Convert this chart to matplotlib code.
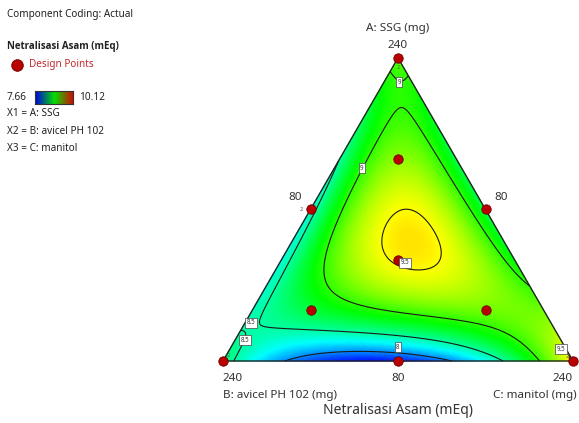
import numpy as np
import matplotlib
matplotlib.use("Agg")
import matplotlib.pyplot as plt
import matplotlib.tri as mtri
from matplotlib.colors import LinearSegmentedColormap, Normalize

plt.rcParams['font.family'] = ['Noto Sans', 'DejaVu Sans']

# Mixture design (actual mg, total 400, each component 80..240)
ssg     = [240, 80, 80, 160, 160, 80, 133.33, 186.67, 106.67, 106.67]
avicel  = [80, 240, 80, 160, 80, 160, 133.33, 106.67, 186.67, 106.67]
manitol = [80, 80, 240, 80, 160, 160, 133.33, 106.67, 106.67, 186.67]
netralisasi = [9.12, 8.60, 9.57, 8.35, 8.75, 7.70, 9.48, 9.20, 8.85, 9.15]
replicates = [2, 2, 2, 2, 1, 1, 1, 1, 1, 1]

low, high = 80.0, 240.0
resp_min, resp_max = 7.66, 10.12
levels = [8.0, 8.5, 9.0, 9.5]

# pseudo components
def pseudo(v):
    return (np.asarray(v, float) - low) / (high - low)

xa, xb, xc = pseudo(ssg), pseudo(avicel), pseudo(manitol)

# Scheffe special cubic model
def terms(a, b, c):
    return np.column_stack([a, b, c, a * b, a * c, b * c, a * b * c])

coef, *_ = np.linalg.lstsq(terms(xa, xb, xc), np.asarray(netralisasi), rcond=None)

H = np.sqrt(3) / 2

def to_xy(a, b, c):
    return c + 0.5 * a, H * a

# grid over the simplex
n = 160
ii, jj = np.meshgrid(np.arange(n + 1), np.arange(n + 1))
mask = ii + jj <= n
ga = ii[mask] / n
gc = jj[mask] / n
gb = 1 - ga - gc
gx, gy = to_xy(ga, gb, gc)
gz = terms(ga, gb, gc) @ coef
triang = mtri.Triangulation(gx, gy)

cmap = LinearSegmentedColormap.from_list(
    'de', ['#0000ff', '#00ffff', '#00ff00', '#ffff00', '#ff0000'])
legend_cmap = LinearSegmentedColormap.from_list(
    'de_key', ['#0000e0', '#00e000', '#e00000'])
norm = Normalize(resp_min, resp_max)

W, Hpx = 579, 423
fig = plt.figure(figsize=(W / 100, Hpx / 100), dpi=100)
scale = 350.0
ox, oy = 223.0, 361.0
ax = fig.add_axes([0, 0, 1, 1])
ax.set_xlim(-ox / scale, (W - ox) / scale)
ax.set_ylim(-(Hpx - oy) / scale, oy / scale)
ax.axis('off')

ax.tripcolor(triang, gz, cmap=cmap, norm=norm, shading='gouraud')
cs = ax.tricontour(triang, gz, levels=levels, colors='#1a1a1a', linewidths=0.8)

def pxy(px, py):
    return (px - ox) / scale, (oy - py) / scale

label_pos = [pxy(399, 82), pxy(362, 168), pxy(405, 263), pxy(561, 349),
             pxy(251, 323), pxy(245, 340), pxy(398, 347)]
lbls = ax.clabel(cs, fmt=lambda v: f"{v:g}", fontsize=4.5, inline=False,
                 manual=label_pos)
for t in lbls:
    # keep boxes upright and at their chosen spot
    x0, y0 = t.get_position()
    near = min(label_pos, key=lambda p: (p[0] - x0) ** 2 + (p[1] - y0) ** 2)
    t.set_position(near)
    t.set_rotation(0)
    t.set_color('#333333')
    t.set_zorder(6)
    t.set_bbox(dict(boxstyle='square,pad=0.25', fc='white', ec='#444444', lw=0.5))

# triangle outline
tx, ty = to_xy(np.array([1, 0, 0, 1]), np.array([0, 1, 0, 0]), np.array([0, 0, 1, 0]))
ax.plot(tx, ty, color='#222222', lw=1.0)

# design points
dx, dy = to_xy(xa, xb, xc)
ax.scatter(dx, dy, s=46, c='#b80000', edgecolors='#700000', linewidths=0.6,
           zorder=5, clip_on=False)
rep_offsets = [(0, -7), (4, 4), (-4, 3.5), (-7, 0)]
for x, y, r, off in zip(dx, dy, replicates, rep_offsets):
    if r > 1:
        ax.annotate(str(r), (x, y), xytext=off, textcoords='offset points',
                    fontsize=4, color='#555555', ha='center', va='center',
                    zorder=7)

# axis labels
txt = dict(color='#333333', fontsize=8.4)
ax.text(*pxy(398, 28), 'A: SSG (mg)', ha='center', va='center', **txt)
ax.text(*pxy(398, 45), '240', ha='center', va='center', **txt)
ax.text(*pxy(295, 197), '80', ha='center', va='center', **txt)
ax.text(*pxy(501, 198), '80', ha='center', va='center', **txt)
ax.text(*pxy(233, 378), '240', ha='center', va='center', **txt)
ax.text(*pxy(398, 378), '80', ha='center', va='center', **txt)
ax.text(*pxy(563, 378), '240', ha='center', va='center', **txt)
ax.text(*pxy(223, 395), 'B: avicel PH 102 (mg)', ha='left', va='center', **txt)
ax.text(*pxy(577, 395), 'C: manitol (mg)', ha='right', va='center', **txt)
ax.text(*pxy(398, 410), 'Netralisasi Asam (mEq)', ha='center', va='center',
        color='#333333', fontsize=10)

# legend block
def fxy(px, py):
    return px / W, 1 - py / Hpx

lt = dict(color='#222222', fontsize=7.2, va='center', ha='left')
fig.text(*fxy(7, 15), 'Component Coding: Actual', **lt)
fig.text(*fxy(7, 47), 'Netralisasi Asam (mEq)', fontweight='bold',
         family=['Open Sans', 'Roboto', 'DejaVu Sans'], color='#222222',
         fontsize=7, va='center', ha='left')
fig.text(*fxy(29, 65), 'Design Points', color='#c0282d', fontsize=7.2,
         va='center', ha='left')
fig.text(*fxy(7, 98), f'{resp_min:.2f}', **lt)
fig.text(*fxy(79, 98), f'{resp_max:.2f}', **lt)
fig.text(*fxy(7, 114), 'X1 = A: SSG', **lt)
fig.text(*fxy(7, 131), 'X2 = B: avicel PH 102', **lt)
fig.text(*fxy(7, 148), 'X3 = C: manitol', **lt)

ax.scatter(*pxy(17, 65), s=70, c='#b80000', edgecolors='#700000',
           linewidths=0.6, clip_on=False)

cax = fig.add_axes([35 / W, 1 - 104 / Hpx, 38 / W, 13 / Hpx])
cax.imshow(np.linspace(0, 1, 100)[None, :], aspect='auto', cmap=legend_cmap)
cax.set_xticks([])
cax.set_yticks([])
for s in cax.spines.values():
    s.set_linewidth(0.8)
    s.set_color('#333333')

fig.savefig('out.png', dpi=100)
